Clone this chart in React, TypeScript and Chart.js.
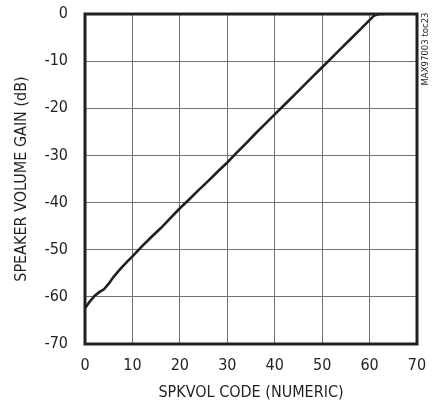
import React, { useEffect, useRef } from "react";
import { Chart, registerables } from "chart.js";

Chart.register(...registerables);

const codes = [0, 1, 2, 3, 4, 5, 6, 7, 8, 9, 10, 12, 14, 16, 18, 20, 22, 24, 26, 28, 30, 32, 34, 36, 38, 40, 42, 44, 46, 48, 50, 52, 54, 56, 58, 60, 61, 62, 63];
const gainDb = [-62.4, -61.0, -59.8, -59.0, -58.4, -57.2, -55.8, -54.6, -53.5, -52.4, -51.4, -49.3, -47.3, -45.4, -43.3, -41.2, -39.3, -37.3, -35.4, -33.4, -31.5, -29.4, -27.4, -25.3, -23.3, -21.3, -19.3, -17.3, -15.3, -13.3, -11.3, -9.3, -7.3, -5.3, -3.3, -1.3, -0.3, 0, 0];

const xTicks = [0, 10, 20, 30, 40, 50, 60, 70];
const yTicks = [0, -10, -20, -30, -40, -50, -60, -70];
const xTitle = "SPKVOL CODE (NUMERIC)";
const yTitle = "SPEAKER VOLUME GAIN (dB)";
const tocLabel = "MAX97003 toc23";

const FONT = '"Liberation Sans Narrow", "DejaVu Sans Condensed", "Arial Narrow", sans-serif';
const TEXT = "#231f20";

const decorPlugin = {
  id: "decor",
  afterDatasetsDraw(chart: any) {
    const { ctx, chartArea } = chart;
    const { left, right, top, bottom } = chartArea;
    ctx.save();
    ctx.strokeStyle = "#231f20";
    ctx.lineWidth = 3;
    ctx.strokeRect(left, top, right - left, bottom - top);
    ctx.fillStyle = TEXT;
    ctx.font = `16px ${FONT}`;
    ctx.textAlign = "center";
    ctx.textBaseline = "middle";
    ctx.fillText(xTitle, (left + right) / 2, 393);
    ctx.save();
    ctx.translate(22, (top + bottom) / 2);
    ctx.rotate(-Math.PI / 2);
    ctx.fillText(yTitle, 0, 0);
    ctx.restore();
    ctx.save();
    ctx.font = `9.5px ${FONT}`;
    ctx.translate(426, 49);
    ctx.rotate(-Math.PI / 2);
    ctx.fillText(tocLabel, 0, 0);
    ctx.restore();
    ctx.restore();
  },
};

export default function App() {
  const ref = useRef<HTMLCanvasElement | null>(null);
  useEffect(() => {
    if (!ref.current) return;
    const data = codes.map((c, i) => ({ x: c, y: gainDb[i] }));
    const chart = new Chart(ref.current, {
      type: "line",
      data: {
        datasets: [
          {
            data,
            borderColor: "#231f20",
            borderWidth: 2.6,
            pointRadius: 0,
            tension: 0,
            fill: false,
          },
        ],
      },
      options: {
        animation: false,
        responsive: false,
        maintainAspectRatio: false,
        layout: { padding: { left: 0, top: 14, right: 20, bottom: 0 } },
        plugins: { legend: { display: false }, tooltip: { enabled: false } },
        scales: {
          x: {
            type: "linear",
            min: 0,
            max: 70,
            afterBuildTicks: (s: any) => {
              s.ticks = xTicks.map((v) => ({ value: v }));
            },
            afterFit: (s: any) => {
              s.height = 62;
              s.paddingLeft = 0;
              s.paddingRight = 0;
              s.paddingTop = 0;
              s.paddingBottom = 0;
            },
            grid: { color: "#707070", lineWidth: 1, drawTicks: false },
            border: { display: false },
            ticks: { color: TEXT, font: { family: FONT, size: 16 }, padding: 12 },
          },
          y: {
            type: "linear",
            min: -70,
            max: 0,
            afterBuildTicks: (s: any) => {
              s.ticks = yTicks.map((v) => ({ value: v }));
            },
            afterFit: (s: any) => {
              s.width = 85;
              s.paddingLeft = 0;
              s.paddingRight = 0;
              s.paddingTop = 0;
              s.paddingBottom = 0;
            },
            grid: { color: "#707070", lineWidth: 1, drawTicks: false },
            border: { display: false },
            ticks: { color: TEXT, font: { family: FONT, size: 16 }, padding: 17 },
          },
        },
      },
      plugins: [decorPlugin],
    });
    return () => chart.destroy();
  }, []);
  return (
    <div style={{ position: "fixed", left: 0, top: 0, width: 437, height: 406, background: "#fff" }}>
      <canvas ref={ref} width={437} height={406} style={{ width: 437, height: 406 }} />
    </div>
  );
}
